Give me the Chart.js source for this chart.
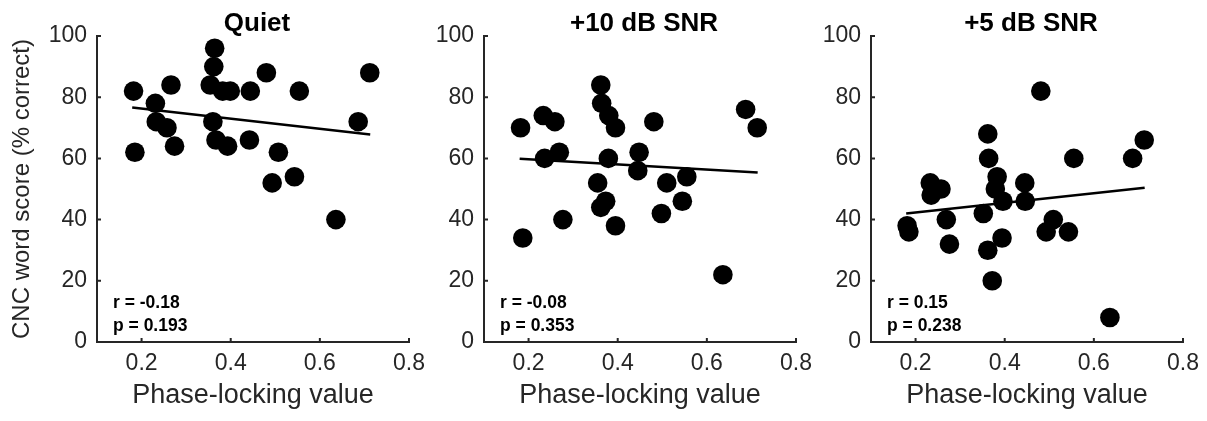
<!DOCTYPE html>
<html>
<head>
<meta charset="utf-8">
<script src="https://cdn.jsdelivr.net/npm/chart.js@4.4.1/dist/chart.umd.min.js"></script>
<style>
  body { margin: 0; background: #fff; }
  #wrap { position: relative; width: 1207px; height: 421px; overflow: hidden; }
  .panel { position: absolute; top: 0; width: 440px; height: 421px; }
</style>
</head>
<body>
<div id="wrap">
  <div class="panel" style="left:0px"><canvas id="c0" width="440" height="421"></canvas></div>
  <div class="panel" style="left:387px"><canvas id="c1" width="440" height="421"></canvas></div>
  <div class="panel" style="left:774px"><canvas id="c2" width="440" height="421"></canvas></div>
</div>
<script>
// panel titles and stats text
var panelTitles = ["Quiet", "+10 dB SNR", "+5 dB SNR"];
var rValues = ["-0.18", "-0.08", "0.15"];
var pValues = ["0.193", "0.353", "0.238"];

// axis ticks
var xTicks = [0.2, 0.4, 0.6, 0.8];
var yTicks = [0, 20, 40, 60, 80, 100];

// Quiet
var quietX = [0.182, 0.185, 0.231, 0.233, 0.257, 0.266, 0.274, 0.354, 0.364, 0.362, 0.360, 0.367, 0.382, 0.399, 0.393, 0.444, 0.442, 0.480, 0.507, 0.493, 0.543, 0.554, 0.636, 0.686, 0.712];
var quietY = [82, 62, 78, 72, 70, 84, 64, 84, 96, 90, 72, 66, 82, 82, 64, 82, 66, 88, 62, 52, 54, 82, 40, 72, 88];
var quietFitX = [0.179, 0.713];
var quietFitY = [76.6, 67.8];

// +10 dB SNR
var snr10X = [0.182, 0.187, 0.233, 0.236, 0.259, 0.269, 0.277, 0.362, 0.364, 0.355, 0.362, 0.373, 0.380, 0.379, 0.395, 0.395, 0.448, 0.445, 0.481, 0.498, 0.510, 0.545, 0.555, 0.636, 0.687, 0.713];
var snr10Y = [70, 34, 74, 60, 72, 62, 40, 84, 78, 52, 44, 46, 74, 60, 70, 38, 62, 56, 72, 42, 52, 46, 54, 22, 76, 70];
var snr10FitX = [0.180, 0.714];
var snr10FitY = [59.9, 55.4];

// +5 dB SNR
var snr5X = [0.181, 0.185, 0.233, 0.235, 0.257, 0.269, 0.276, 0.362, 0.364, 0.352, 0.362, 0.372, 0.383, 0.379, 0.396, 0.394, 0.445, 0.446, 0.481, 0.493, 0.509, 0.543, 0.555, 0.636, 0.687, 0.713];
var snr5Y = [38, 36, 52, 48, 50, 40, 32, 68, 60, 42, 30, 20, 54, 50, 46, 34, 52, 46, 82, 36, 40, 36, 60, 8, 60, 66];
var snr5FitX = [0.179, 0.714];
var snr5FitY = [42.0, 50.4];

var allX = [quietX, snr10X, snr5X];
var allY = [quietY, snr10Y, snr5Y];
var allFitX = [quietFitX, snr10FitX, snr5FitX];
var allFitY = [quietFitY, snr10FitY, snr5FitY];

var FONT = "'Liberation Sans', Arial, Helvetica, sans-serif";
var AXIS = "#262626";

function toPoints(xs, ys) {
  var pts = [];
  for (var i = 0; i < xs.length; i++) pts.push({ x: xs[i], y: ys[i] });
  return pts;
}

// inward tick marks, panel title, r/p text
var decor = {
  id: "decor",
  afterDraw: function (chart) {
    var ctx = chart.ctx;
    var a = chart.chartArea;
    var xs = chart.scales.x, ys = chart.scales.y;
    var idx = chart.options.plugins.decor.index;
    ctx.save();
    ctx.strokeStyle = AXIS;
    ctx.lineWidth = 2;
    ctx.beginPath();
    xTicks.forEach(function (v) {
      var px = xs.getPixelForValue(v);
      ctx.moveTo(px, a.bottom);
      ctx.lineTo(px, a.bottom - 4);
    });
    yTicks.forEach(function (v) {
      var py = ys.getPixelForValue(v);
      ctx.moveTo(a.left, py);
      ctx.lineTo(a.left + 4, py);
    });
    ctx.stroke();

    ctx.fillStyle = "#000";
    ctx.textAlign = "center";
    ctx.textBaseline = "alphabetic";
    ctx.font = "bold 26px " + FONT;
    ctx.fillText(panelTitles[idx], (a.left + a.right) / 2 + 4, 31);

    ctx.textAlign = "left";
    ctx.font = "bold 17.5px " + FONT;
    ctx.fillText("r = " + rValues[idx], a.left + 16, 308);
    ctx.fillText("p = " + pValues[idx], a.left + 16, 331);
    ctx.restore();
  }
};

for (var k = 0; k < 3; k++) {
  var ctx = document.getElementById("c" + k).getContext("2d");
  new Chart(ctx, {
    type: "scatter",
    data: {
      datasets: [
        {
          data: toPoints(allX[k], allY[k]),
          backgroundColor: "#000",
          borderWidth: 0,
          pointRadius: 9.8,
          pointHoverRadius: 9.8,
          clip: false
        },
        {
          type: "line",
          data: toPoints(allFitX[k], allFitY[k]),
          borderColor: "#000",
          borderWidth: 2.5,
          pointRadius: 0,
          fill: false,
          clip: false
        }
      ]
    },
    options: {
      responsive: false,
      animation: false,
      layout: { padding: { top: 36, right: 31, bottom: 0, left: 0 } },
      plugins: {
        legend: { display: false },
        tooltip: { enabled: false },
        decor: { index: k }
      },
      scales: {
        x: {
          type: "linear",
          min: 0.1,
          max: 0.8,
          afterFit: function (s) {
            s.height = 79;
            s.paddingLeft = 0;
            s.paddingRight = 0;
          },
          afterBuildTicks: function (s) {
            s.ticks = xTicks.map(function (v) { return { value: v }; });
          },
          grid: { display: false, drawTicks: false },
          border: { display: true, color: AXIS, width: 2 },
          ticks: {
            color: AXIS,
            font: { family: FONT, size: 23 },
            padding: 8,
            callback: function (v) { return Number(v).toFixed(1); }
          },
          title: {
            display: true,
            text: "Phase-locking value",
            color: AXIS,
            font: { family: FONT, size: 27 },
            padding: { top: 0, bottom: 9 }
          }
        },
        y: {
          min: 0,
          max: 100,
          afterFit: function (s) {
            s.width = 97;
            s.paddingTop = 0;
            s.paddingBottom = 0;
          },
          afterBuildTicks: function (s) {
            s.ticks = yTicks.map(function (v) { return { value: v }; });
          },
          grid: { display: false, drawTicks: false },
          border: { display: true, color: AXIS, width: 2 },
          ticks: {
            color: AXIS,
            font: { family: FONT, size: 23 },
            padding: 10
          },
          title: {
            display: k === 0,
            text: "CNC word score (% correct)",
            color: AXIS,
            font: { family: FONT, size: 24 },
            padding: { top: 8, bottom: 0 }
          }
        }
      }
    },
    plugins: [decor]
  });
}
</script>
</body>
</html>
